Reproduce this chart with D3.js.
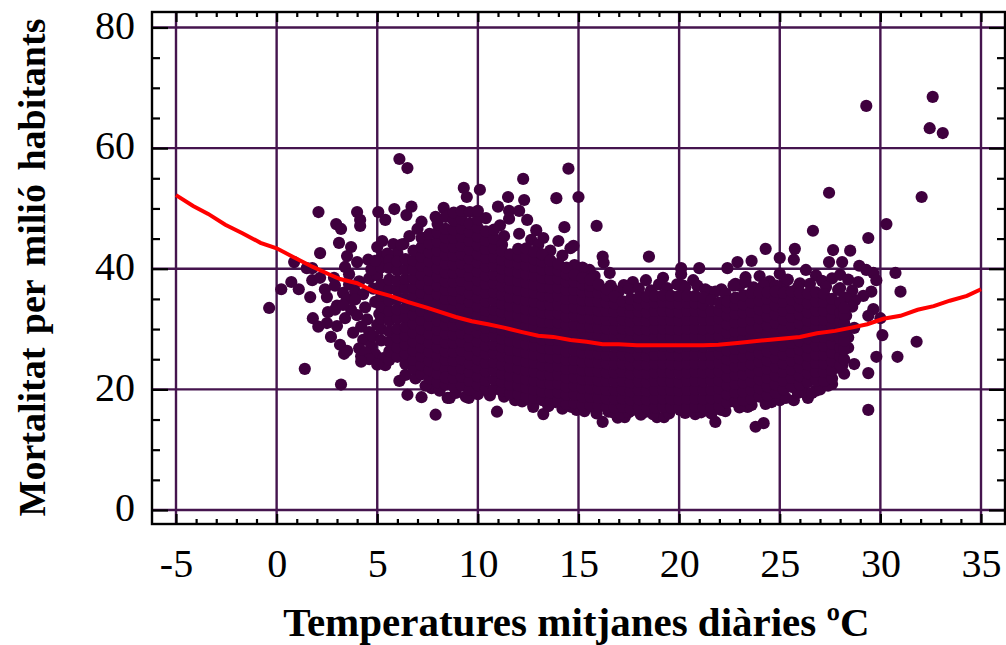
<!DOCTYPE html>
<html>
<head>
<meta charset="utf-8">
<script src="https://cdn.jsdelivr.net/npm/d3@7"></script>
<style>
  body { margin: 0; background: #fff; }
  svg { display: block; }
  text { font-family: "Liberation Serif", serif; fill: #000; }
</style>
</head>
<body>
<script>
const svgWidth = 1006
const svgHeight = 645

const xTicks = [-5, 0, 5, 10, 15, 20, 25, 30, 35]
const yTicks = [0, 20, 40, 60, 80]
const xMinorTicks = [-4, -3, -2, -1, 1, 2, 3, 4, 6, 7, 8, 9, 11, 12, 13, 14, 16, 17, 18, 19, 21, 22, 23, 24, 26, 27, 28, 29, 31, 32, 33, 34]
const yMinorTicks = [5, 10, 15, 25, 30, 35, 45, 50, 55, 65, 70, 75]

// fitted curve
const curveTemps = [-5, -4.15, -3.4, -2.55, -1.7, -0.8, 0, 0.8, 1.8, 2.65, 3.15, 4, 4.8, 5.65, 6.5, 7.5, 8.9, 9.7, 10.5, 11.35, 12.2, 13, 13.75, 14.6, 15.4, 16.2, 17, 17.9, 19.5, 21.2, 21.95, 22.9, 24.4, 26, 26.85, 27.75, 28.5, 29.35, 30.15, 31, 31.85, 32.65, 33.45, 34.3, 35]
const curveValues = [52.2, 50.4, 49.1, 47.3, 45.9, 44.3, 43.4, 42, 40.3, 39, 38.3, 37.6, 36.3, 35.5, 34.5, 33.5, 32, 31.3, 30.8, 30.2, 29.5, 28.9, 28.7, 28.2, 27.9, 27.5, 27.5, 27.3, 27.3, 27.3, 27.4, 27.7, 28.2, 28.7, 29.3, 29.7, 30.2, 30.8, 31.7, 32.2, 33.2, 33.8, 34.7, 35.5, 36.6]

// isolated days, left side
const leftTemps = [-0.37, 0.23, 0.73, 0.87, 1.1, 1.4, 1.5, 1.67, 1.77, 1.77, 1.8, 2.07, 2.08, 2.16, 2.16, 2.4, 2.5, 2.5, 2.55, 2.7, 2.85, 2.96, 3.1, 3.15, 3.2, 3.2, 3.35, 3.4, 3.5, 3.6, 3.7, 4.0, 4.0, 4.15, 4.15, 4.2, 4.55, 5.0, 5.05, 5.15, 5.25, 5.25, 5.4, 5.4, 5.8, 5.85, 5.9, 6.0, 6.1, 6.1, 6.3, 6.45, 6.5, 6.5, 6.6, 6.7, 7.2, 7.2, 7.3, 7.9, 7.9, 8.3, 8.5, 8.6, 7.7]
const leftValues = [33.5, 36.6, 37.8, 41.1, 36.6, 23.4, 40.1, 35.3, 40.1, 38.1, 31.8, 30.4, 49.4, 42.6, 38.5, 36.6, 31, 35.3, 32.8, 28.7, 38.5, 47.4, 44.3, 27.4, 46.6, 20.8, 25.9, 40.3, 42.1, 39.1, 43.6, 49.4, 41.1, 48.1, 47.1, 25.5, 41.5, 43.6, 49.4, 40.3, 44.6, 42, 48.1, 24, 44.1, 49.9, 40.3, 42.6, 58.2, 21.4, 44.1, 48.9, 56.7, 19.1, 41.1, 50.3, 47.8, 18.7, 45.1, 48.6, 15.8, 50.1, 18.6, 18.6, 20.2]

// loose points round the left end of the cloud
const looseTemps = [2.9, 3.0, 3.3, 3.5, 3.6, 3.4, 3.0, 3.7, 3.9, 4.1, 4.3, 4.0, 4.4, 4.2, 4.6, 4.8, 4.5, 4.9, 4.3, 4.6, 3.8, 4.1, 4.7, 4.9, 4.4, 4.8, 5.0, 5.1, 4.7, 5.0, 5.3, 5.2, 4.9, 5.5, 5.6, 5.3, 4.6, 4.2, 3.5, 2.9, 3.3, 3.9, 5.6, 5.0, 6.2, 6.6, 7.0]
const looseValues = [37.2, 33.9, 36.0, 35.0, 37.4, 31.8, 30.5, 33.2, 36.2, 37.9, 35.8, 32.3, 33.6, 30.4, 38.4, 36.7, 31.6, 34.5, 28.2, 29.5, 29.4, 26.8, 27.2, 25.8, 26.1, 28.8, 38.9, 32.5, 39.9, 30.7, 35.9, 40.2, 41.3, 42.5, 41.4, 25.2, 25.0, 24.6, 26.4, 33.2, 34.0, 34.9, 24.9, 24.1, 44.0, 45.4, 46.6]

// isolated days, upper and lower edge and the hot end
const edgeTemps = [9.3, 9.45, 10.1, 11, 11.5, 12.25, 12.3, 11.55, 11.55, 12.05, 12.45, 13.9, 15, 14.5, 14.3, 15.9, 12.9, 13.25, 12.05, 14, 12.65, 14.75, 14.6, 16.2, 16.25, 18.5, 15.55, 16.55, 20.1, 20.1, 21, 22.4, 22.9, 19.2, 17.7, 18.35, 16.7, 17.25, 20.7, 22.1, 21.5, 20.2, 22.8, 9.55, 10.35, 10.95, 11.85, 12.75, 13.25, 13.85, 14.65, 15.5, 16.2, 16.5, 16.95, 17.3, 17.7, 18.35, 18.9, 19.25, 20.05, 21.4, 21.8, 22.1, 22.8, 23.4, 23.8, 24.2, 24.6, 25, 25.7, 26.4]
const edgeValues = [53.4, 51.9, 53.1, 50.3, 51.9, 54.9, 51.4, 49.6, 48.3, 49.6, 48.1, 51.7, 51.9, 56.6, 46.9, 47.1, 46.4, 45.1, 45.8, 44.6, 44.8, 43.8, 43.4, 42, 41, 42, 39.8, 39.3, 40.1, 39.1, 40.1, 40.1, 41.1, 38.5, 37.8, 38.1, 36.6, 37.3, 38.1, 36.6, 36.2, 37.2, 37.5, 18.6, 19.9, 16.3, 18.2, 17.1, 15.9, 17.9, 17.1, 17.1, 14.6, 16.3, 15.3, 15.4, 16.6, 16.3, 15.4, 15.4, 16.6, 16.6, 14.6, 16.6, 17.9, 17.1, 13.8, 14.4, 17.9, 18.2, 18.2, 18.6]

const hotTemps = [29.3, 32.6, 32.45, 33.1, 27.45, 32.05, 30.3, 29.4, 26.65, 24.3, 25.75, 25, 25.7, 27.65, 28.5, 27.45, 28.1, 23.6, 28.95, 29.3, 29.65, 29.8, 30.75, 31, 29.55, 29.15, 28.75, 29.65, 29.4, 30, 30.1, 31.8, 29.8, 30.85, 28.7, 28.1, 29.4, 27.6, 29.4, 24.0, 24.5, 23.3, 25.0, 26.3, 26.8, 27.1, 27.6, 28.0, 28.4, 28.9, 26.0, 25.2, 23.0, 28.6, 28.3, 28.6, 28.3, 28.7, 28.4, 28.4, 28.0, 28.2, 27.9, 26.8, 26.2]
const hotValues = [67, 68.5, 63.3, 62.5, 52.6, 51.9, 47.4, 45.1, 46.3, 43.3, 43.3, 41.8, 41.5, 43.1, 43, 41.1, 41.1, 41.3, 40.5, 39.8, 39.3, 38.1, 39.3, 36.2, 36.2, 35.5, 34.8, 33.3, 32.2, 31.8, 29, 27.9, 25.4, 25.4, 24.2, 23.9, 22.7, 20.9, 16.6, 38.8, 37.9, 38.6, 39.2, 39.8, 38.9, 38, 38.4, 39, 38.2, 37.8, 37.6, 37.4, 37.2, 36.4, 35.2, 33.7, 32.2, 30.2, 28.6, 26.9, 36.8, 22.6, 23.6, 19.8, 19.6]

// rough fringe along the top and bottom of the cloud
const fringeTemps = [16.6, 17, 17.5, 18, 18.6, 19, 19.4, 19.9, 20.3, 20.9, 21.3, 21.8, 22.3, 22.7, 23.3, 23.7, 24.2, 24.8, 25.4, 25.9, 26.5, 27.3, 27.9, 28.2, 13, 13.6, 14.2, 14.8, 15.2, 15.8, 11.1, 11.3, 10.6, 11.3, 12.2, 12.6, 13.5, 14.2, 14.9, 15.3, 15.9, 16.7, 17.1, 17.5, 18.1, 18.7, 19.5, 20.3, 20.8, 21.1, 21.6, 22.3, 23, 23.6, 24.3, 24.8, 25.3, 25.9, 26.6, 27, 27.4, 6.4, 6.9, 7.4, 8.1, 8.9, 9.4, 10]
const fringeValues = [37.2, 36.2, 36.6, 36.7, 36.4, 37.4, 36.8, 37.4, 36.9, 37.2, 36.6, 36.2, 35.9, 37.2, 37.8, 36.9, 37.3, 37.2, 38.2, 36.9, 37.5, 37, 36.5, 35.2, 44, 43, 42.2, 40.6, 40.2, 38.8, 47.2, 45.4, 19, 18.8, 18, 18.2, 17.2, 16.8, 16.6, 16.4, 16, 16.2, 16, 16.2, 15.8, 15.9, 16, 16.1, 15.9, 16.2, 16, 16.4, 17, 17.4, 17.6, 18.4, 18.6, 19.4, 19.4, 20, 20.6, 22.4, 21.8, 20.6, 19.8, 19.4, 18.8, 19.2]

// dense cloud, one row of readings per temperature column
const coreTemps = [5.2, 5.6, 6.0, 6.4, 6.8, 7.2, 7.6, 8.0, 8.4, 8.8, 9.2, 9.6, 10.0, 10.4, 10.8, 11.2, 11.6, 12.0, 12.4, 12.8, 13.2, 13.6, 14.0, 14.4, 14.8, 15.2, 15.6, 16.0, 16.4, 16.8, 17.2, 17.6, 18.0, 18.4, 18.8, 19.2, 19.6, 20.0, 20.4, 20.8, 21.2, 21.6, 22.0, 22.4, 22.8, 23.2, 23.6, 24.0, 24.4, 24.8, 25.2, 25.6, 26.0, 26.4, 26.8, 27.2, 27.6, 28.0, 28.2]
const coreValues = [
  [28.1, 30.0, 31.7, 33.8, 35.5, 37.4],
  [26.3, 27.9, 29.6, 31.4, 33.0, 34.7, 36.6, 38.2, 40.1],
  [25.4, 27.0, 28.6, 30.1, 31.8, 33.3, 35.0, 36.5, 38.0, 39.7, 41.2],
  [24.2, 25.9, 27.4, 28.9, 30.4, 32.0, 33.5, 35.1, 36.7, 38.3, 39.9, 41.6],
  [23.4, 24.9, 26.4, 27.9, 29.4, 30.9, 32.4, 33.9, 35.4, 36.9, 38.4, 39.9, 41.4, 43.0],
  [22.5, 24.0, 25.5, 27.0, 28.5, 30.0, 31.5, 33.0, 34.5, 36.0, 37.5, 39.0, 40.5, 42.0, 43.6, 45.1],
  [21.8, 23.2, 24.7, 26.2, 27.7, 29.2, 30.7, 32.2, 33.7, 35.2, 36.7, 38.2, 39.7, 41.2, 42.7, 44.2, 45.8],
  [21.2, 22.6, 24.1, 25.5, 27.0, 28.4, 29.9, 31.4, 32.8, 34.3, 35.8, 37.2, 38.7, 40.1, 41.6, 43.0, 44.5, 46.0, 47.4],
  [20.8, 23.4, 24.9, 26.3, 27.8, 29.2, 30.7, 32.1, 33.6, 35.0, 36.5, 37.9, 39.4, 40.8, 42.3, 43.7, 45.2, 46.6, 48.6, 22.0],
  [20.5, 21.9, 23.3, 24.8, 26.2, 27.7, 29.1, 30.6, 32.0, 33.5, 34.9, 36.4, 37.8, 39.3, 40.7, 42.2, 43.6, 45.1, 46.5, 48.0, 49.3],
  [20.6, 22.1, 23.5, 25.0, 26.4, 27.9, 29.3, 30.8, 32.2, 33.7, 35.1, 36.6, 38.0, 39.5, 40.9, 42.4, 43.8, 45.3, 46.7, 48.2, 49.6],
  [20.0, 21.4, 22.9, 24.3, 25.8, 27.2, 28.7, 30.1, 31.6, 33.0, 34.5, 35.9, 37.4, 38.8, 40.3, 41.7, 43.2, 44.6, 46.1, 47.5, 49.4],
  [20.7, 22.1, 23.6, 25.0, 26.5, 27.9, 29.4, 30.8, 32.3, 33.7, 35.2, 36.6, 38.1, 39.5, 41.0, 42.4, 43.9, 45.3, 46.8, 48.2, 49.6],
  [20.1, 21.5, 23.0, 24.4, 25.9, 27.3, 28.8, 30.2, 31.7, 33.1, 34.6, 36.0, 37.5, 38.9, 40.4, 41.8, 43.3, 44.7, 46.2, 48.4],
  [20.0, 21.6, 23.1, 24.5, 26.0, 27.4, 28.9, 30.3, 31.8, 33.2, 34.7, 36.1, 37.6, 39.0, 40.5, 41.9, 43.4, 45.0, 46.5],
  [19.7, 21.2, 22.6, 24.1, 25.5, 27.0, 28.4, 29.9, 31.3, 32.8, 34.2, 35.7, 37.1, 38.6, 40.0, 41.5, 44.0, 42.9],
  [19.3, 20.8, 22.3, 23.7, 25.2, 26.6, 28.1, 29.5, 31.0, 32.4, 33.9, 35.3, 36.8, 38.2, 39.7, 41.1, 42.4],
  [19.2, 20.6, 22.0, 23.5, 24.9, 26.4, 27.8, 29.3, 30.7, 32.2, 33.6, 35.1, 36.5, 38.0, 39.4, 40.9, 42.1, 43.3],
  [18.8, 20.3, 21.7, 23.2, 24.6, 26.1, 27.5, 29.0, 30.4, 31.9, 33.3, 34.8, 36.2, 37.7, 39.1, 40.6, 42.0, 43.4],
  [18.6, 20.0, 21.5, 22.9, 24.4, 25.8, 27.3, 28.7, 30.2, 31.6, 33.1, 34.5, 36.0, 37.4, 38.9, 40.3, 41.6, 42.8],
  [18.2, 19.6, 21.1, 22.5, 24.0, 25.4, 26.9, 28.3, 29.8, 31.2, 32.7, 34.1, 35.6, 37.0, 38.5, 39.9, 41.2, 42.4],
  [18.0, 19.5, 20.9, 22.4, 23.8, 25.3, 26.7, 28.2, 29.6, 31.1, 32.5, 34.0, 35.4, 36.9, 38.3, 39.8, 41.4],
  [18.1, 19.5, 21.0, 22.4, 23.9, 25.3, 26.8, 28.2, 29.7, 31.1, 32.6, 34.0, 35.5, 36.9, 38.4, 39.7, 40.8],
  [17.6, 19.1, 20.5, 22.0, 23.4, 24.9, 26.3, 27.8, 29.2, 30.7, 32.1, 33.6, 35.0, 36.5, 37.9, 39.1, 40.2],
  [17.7, 19.1, 20.6, 22.0, 23.5, 24.9, 26.4, 27.8, 29.3, 30.7, 32.2, 33.6, 35.1, 36.5, 37.8, 39.0],
  [17.4, 18.8, 20.3, 21.7, 23.2, 24.6, 26.1, 27.5, 29.0, 30.4, 31.9, 33.3, 34.8, 36.2, 37.4, 38.5],
  [17.3, 18.8, 20.2, 21.7, 23.1, 24.6, 26.0, 27.5, 28.9, 30.4, 31.8, 33.3, 34.7, 36.2, 37.2, 38.2],
  [17.2, 18.6, 20.1, 21.5, 23.0, 24.4, 25.9, 27.3, 28.8, 30.2, 31.7, 33.1, 34.6, 36.0, 37.4],
  [17.0, 18.5, 19.9, 21.4, 22.8, 24.3, 25.7, 27.2, 28.6, 30.1, 31.5, 33.0, 34.4, 35.6, 36.6],
  [17.0, 18.4, 19.9, 21.3, 22.8, 24.2, 25.7, 27.1, 28.6, 30.0, 31.5, 32.9, 34.2, 35.4],
  [17.1, 18.5, 20.0, 21.4, 22.9, 24.3, 25.8, 27.2, 28.7, 30.1, 31.6, 33.0, 34.6],
  [16.8, 18.3, 19.7, 21.2, 22.6, 24.1, 25.5, 27.0, 28.4, 29.9, 31.3, 32.8, 34.0, 35.0],
  [17.0, 18.4, 19.9, 21.3, 22.8, 24.2, 25.7, 27.1, 28.6, 30.0, 31.5, 32.9, 34.1, 35.2],
  [16.9, 18.3, 19.8, 21.2, 22.7, 24.1, 25.6, 27.0, 28.5, 29.9, 31.4, 32.8, 34.2, 35.4],
  [17.0, 18.5, 19.9, 21.4, 22.8, 24.3, 25.7, 27.2, 28.6, 30.1, 31.5, 33.0, 34.4, 35.5],
  [17.1, 18.5, 20.0, 21.4, 22.9, 24.3, 25.8, 27.2, 28.7, 30.1, 31.6, 33.0, 34.5, 35.6],
  [17.0, 18.4, 19.9, 21.3, 22.8, 24.2, 25.7, 27.1, 28.6, 30.0, 31.5, 32.9, 34.3, 35.5],
  [16.9, 18.3, 19.8, 21.2, 22.7, 24.1, 25.6, 27.0, 28.5, 29.9, 31.4, 32.8, 34.2, 35.5],
  [17.0, 18.5, 19.9, 21.4, 22.8, 24.3, 25.7, 27.2, 28.6, 30.1, 31.5, 33.0, 34.4, 35.5],
  [17.1, 18.5, 20.0, 21.4, 22.9, 24.3, 25.8, 27.2, 28.7, 30.1, 31.6, 33.0, 34.3, 35.5],
  [17.0, 18.4, 19.9, 21.3, 22.8, 24.2, 25.7, 27.1, 28.6, 30.0, 31.5, 32.9, 34.1, 35.2],
  [17.0, 18.5, 19.9, 21.4, 22.8, 24.3, 25.7, 27.2, 28.6, 30.1, 31.5, 33.0, 34.8],
  [17.2, 18.6, 20.1, 21.5, 23.0, 24.4, 25.9, 27.3, 28.8, 30.2, 31.7, 33.1, 34.4],
  [17.8, 19.2, 20.7, 22.1, 23.6, 25.0, 26.5, 27.9, 29.4, 30.8, 32.3, 33.6, 34.6],
  [18.0, 19.5, 20.9, 22.4, 23.8, 25.3, 26.7, 28.2, 29.6, 31.1, 32.5, 34.0, 35.2],
  [18.2, 19.6, 21.1, 22.5, 24.0, 25.4, 26.9, 28.3, 29.8, 31.2, 32.7, 34.1, 35.6],
  [18.4, 19.9, 21.3, 22.8, 24.2, 25.7, 27.1, 28.6, 30.0, 31.5, 32.9, 34.4, 36.0],
  [18.8, 20.2, 21.7, 23.1, 24.6, 26.0, 27.5, 28.9, 30.4, 31.8, 33.3, 34.7, 36.0],
  [19.0, 20.5, 21.9, 23.4, 24.8, 26.3, 27.7, 29.2, 30.6, 32.1, 33.5, 35.0, 36.1],
  [19.4, 20.8, 22.3, 23.7, 25.2, 26.6, 28.1, 29.5, 31.0, 32.4, 33.9, 35.3, 36.2],
  [20.0, 21.4, 22.9, 24.3, 25.8, 27.2, 28.7, 30.1, 31.6, 33.0, 34.5, 36.0],
  [20.4, 21.9, 23.3, 24.8, 26.2, 27.7, 29.1, 30.6, 32.0, 33.5, 34.9, 36.2],
  [20.8, 22.2, 23.7, 25.1, 26.6, 28.0, 29.5, 30.9, 32.4, 33.8, 35.1, 36.0],
  [21.2, 22.7, 24.1, 25.6, 27.0, 28.5, 29.9, 31.4, 32.8, 34.3, 35.9],
  [21.5, 22.9, 24.4, 25.8, 27.3, 28.7, 30.2, 31.6, 33.1, 34.6, 36.1],
  [21.4, 22.9, 24.3, 25.8, 27.2, 28.7, 30.1, 31.6, 33.0, 34.5, 35.8],
  [21.8, 23.2, 24.7, 26.1, 27.6, 29.0, 30.5, 31.9, 33.4, 35.0],
  [24.0, 25.5, 26.9, 28.4, 29.8, 31.3, 32.7, 34.4],
  [25.0, 26.6, 28.1, 29.6, 31.0, 32.4, 33.5]
]

const margin = { top: 12, right: 1005, bottom: 524, left: 152 }
const inkColor = "#3f003e"
const gridColor = "#45144e"

const x = d3.scaleLinear().domain([-5, 35]).range([176, 981])
const y = d3.scaleLinear().domain([0, 80]).range([510, 27.5])

const svg = d3.select("body").append("svg")
  .attr("width", svgWidth)
  .attr("height", svgHeight)

// grid
svg.append("g").selectAll("line").data(xTicks).enter().append("line")
  .attr("x1", d => x(d)).attr("x2", d => x(d))
  .attr("y1", margin.top).attr("y2", margin.bottom)
  .attr("stroke", gridColor).attr("stroke-width", 2.4)
svg.append("g").selectAll("line").data(yTicks).enter().append("line")
  .attr("x1", margin.left).attr("x2", margin.right)
  .attr("y1", d => y(d)).attr("y2", d => y(d))
  .attr("stroke", gridColor).attr("stroke-width", 2.4)

// points
const pointSets = [[leftTemps, leftValues], [looseTemps, looseValues], [edgeTemps, edgeValues], [hotTemps, hotValues], [fringeTemps, fringeValues]]
const points = []
pointSets.forEach(([ts, vs]) => ts.forEach((t, i) => points.push([t, vs[i]])))
coreTemps.forEach((t, i) => coreValues[i].forEach(v => points.push([t, v])))

svg.append("g").selectAll("circle").data(points).enter().append("circle")
  .attr("cx", d => x(d[0]))
  .attr("cy", d => y(d[1]))
  .attr("r", 6.1)
  .attr("fill", inkColor)

// curve
const line = d3.line().x((d, i) => x(d)).y((d, i) => y(curveValues[i]))
svg.append("path")
  .attr("d", line(curveTemps))
  .attr("fill", "none")
  .attr("stroke", "#ff0000")
  .attr("stroke-width", 4)

// ticks on all four sides
const blank = () => ""
function addAxis(axis, tx, ty) {
  const g = svg.append("g").attr("transform", `translate(${tx}, ${ty})`).call(axis)
  g.select(".domain").remove()
  g.selectAll("line").attr("stroke", "#000").attr("stroke-width", 2.2)
  return g
}
addAxis(d3.axisBottom(x).tickValues(xTicks).tickSize(-10).tickPadding(24.5).tickFormat(d => String(d)), 0, margin.bottom)
  .selectAll("text").style("font-size", "40px").attr("fill", "#000")
addAxis(d3.axisBottom(x).tickValues(xMinorTicks).tickSize(-5).tickFormat(blank), 0, margin.bottom)
addAxis(d3.axisTop(x).tickValues(xTicks).tickSize(-10).tickFormat(blank), 0, margin.top)
addAxis(d3.axisTop(x).tickValues(xMinorTicks).tickSize(-5).tickFormat(blank), 0, margin.top)
addAxis(d3.axisLeft(y).tickValues(yTicks).tickSize(-16).tickPadding(17).tickFormat(d => String(d)), margin.left, 0)
  .selectAll("text").style("font-size", "40px").attr("fill", "#000").attr("dy", "0.27em")
addAxis(d3.axisLeft(y).tickValues(yMinorTicks).tickSize(-8).tickFormat(blank), margin.left, 0)
addAxis(d3.axisRight(y).tickValues(yTicks).tickSize(-16).tickFormat(blank), margin.right, 0)
addAxis(d3.axisRight(y).tickValues(yMinorTicks).tickSize(-8).tickFormat(blank), margin.right, 0)

// frame
svg.append("rect")
  .attr("x", margin.left).attr("y", margin.top)
  .attr("width", margin.right - margin.left).attr("height", margin.bottom - margin.top)
  .attr("fill", "none").attr("stroke", "#000").attr("stroke-width", 2.4)

// titles
svg.append("text")
  .attr("x", 576.5).attr("y", 636)
  .attr("text-anchor", "middle")
  .style("font-size", "41px").style("font-weight", "bold")
  .text("Temperatures mitjanes diàries ºC")
svg.append("text")
  .attr("transform", "translate(45, 267.5) rotate(-90)")
  .attr("text-anchor", "middle")
  .style("font-size", "38px").style("font-weight", "bold")
  .style("word-spacing", "4px")
  .text("Mortalitat per milió habitants")
</script>
</body>
</html>
